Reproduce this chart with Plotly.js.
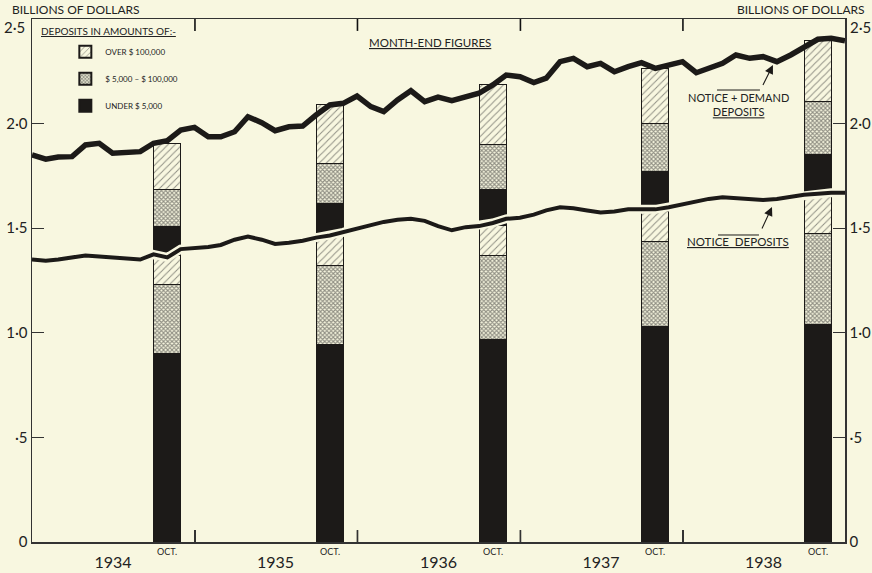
<!DOCTYPE html>
<html><head><meta charset="utf-8">
<script src="https://cdn.plot.ly/plotly-3.0.1.min.js"></script>
<style>html,body{margin:0;padding:0;background:#f8f7e0}</style>
</head><body><div id="chart" style="width:872px;height:573px"></div>
<script>
// Month-end dates (Dec 1933 .. Dec 1938)
const monthEnds = [
 '1933-12-31',
 '1934-01-31','1934-02-28','1934-03-31','1934-04-30','1934-05-31','1934-06-30','1934-07-31','1934-08-31','1934-09-30','1934-10-31','1934-11-30','1934-12-31',
 '1935-01-31','1935-02-28','1935-03-31','1935-04-30','1935-05-31','1935-06-30','1935-07-31','1935-08-31','1935-09-30','1935-10-31','1935-11-30','1935-12-31',
 '1936-01-31','1936-02-29','1936-03-31','1936-04-30','1936-05-31','1936-06-30','1936-07-31','1936-08-31','1936-09-30','1936-10-31','1936-11-30','1936-12-31',
 '1937-01-31','1937-02-28','1937-03-31','1937-04-30','1937-05-31','1937-06-30','1937-07-31','1937-08-31','1937-09-30','1937-10-31','1937-11-30','1937-12-31',
 '1938-01-31','1938-02-28','1938-03-31','1938-04-30','1938-05-31','1938-06-30','1938-07-31','1938-08-31','1938-09-30','1938-10-31','1938-11-30','1938-12-31'
];
// Billions of dollars, month-end figures
const noticePlusDemand = [
 1.85,
 1.83,1.84,1.842,1.898,1.906,1.858,1.863,1.866,1.906,1.918,1.969,1.982,
 1.937,1.937,1.961,2.033,2.004,1.966,1.985,1.988,2.041,2.089,2.097,2.132,
 2.081,2.057,2.113,2.157,2.105,2.127,2.110,2.125,2.145,2.185,2.232,2.224,
 2.196,2.217,2.296,2.312,2.272,2.288,2.248,2.272,2.291,2.264,2.280,2.296,
 2.243,2.264,2.288,2.328,2.312,2.320,2.296,2.328,2.368,2.403,2.408,2.396
];
const noticeDeposits = [
 1.35,
 1.345,1.35,1.36,1.37,1.365,1.36,1.355,1.35,1.375,1.36,1.40,1.405,
 1.41,1.42,1.445,1.46,1.445,1.425,1.43,1.44,1.455,1.465,1.48,1.50,
 1.515,1.53,1.54,1.545,1.535,1.51,1.49,1.505,1.51,1.525,1.545,1.55,
 1.565,1.585,1.60,1.595,1.585,1.575,1.58,1.59,1.59,1.59,1.60,1.615,
 1.63,1.64,1.648,1.645,1.638,1.635,1.64,1.65,1.66,1.665,1.67,1.67
];
// October bars
const barDates = ['1934-10-31','1935-10-31','1936-10-31','1937-10-31','1938-10-31'];
const barLabel = 'OCT.';
const sizeClasses = ['UNDER $ 5,000','$ 5,000 \u2013 $ 100,000','OVER $ 100,000'];
const noticeUnder5k   = [0.90, 0.945, 0.97, 1.03, 1.04];
const noticeMid       = [0.33, 0.375, 0.40, 0.405, 0.435];
const noticeOver100k  = [0.14, 0.14, 0.145, 0.145, 0.18];
const demandUnder5k   = [0.14, 0.16, 0.17, 0.19, 0.195];
const demandMid       = [0.175, 0.19, 0.215, 0.23, 0.255];
const demandOver100k  = [0.22, 0.28, 0.285, 0.265, 0.29];
// Axis labels
const yearLabels = ['1934','1935','1936','1937','1938'];
const yearMids = ['1934-07-01','1935-07-01','1936-07-01','1937-07-01','1938-07-01'];
const yearStarts = ['1935-01-01','1936-01-01','1937-01-01','1938-01-01'];
const yTickVals = [0, 0.5, 1, 1.5, 2, 2.5];
const yTickText = ['0', '\u00b75', '1\u00b70', '1\u00b75', '2\u00b70', '2\u00b75'];

const BG = '#f8f7e0';
const INK = '#1c1a18';
const FONT = 'Lato, "Liberation Sans", sans-serif';
const BARW = 61 * 86400000;
const XRANGE = ['1933-12-31', '1938-12-31'];
const TICKFONT = 15;
const YMAX = 2.5, TICKLEN = 0.057;

const styles = [
  {color: INK},
  {color: BG, pattern: {shape: 'x', size: 3, solidity: 0.6, fgcolor: '#2a2a2a', fillmode: 'overlay'}},
  {color: BG, pattern: {shape: '/', size: 5, solidity: 0.2, fgcolor: '#2a2a2a', fillmode: 'overlay'}}
];
const groups = ['under', 'mid', 'over'];
const ranks = [3, 2, 1];
const series = [
  [noticeUnder5k, 0, true], [noticeMid, 1, true], [noticeOver100k, 2, true],
  [demandUnder5k, 0, false], [demandMid, 1, false], [demandOver100k, 2, false]
];
const traces = series.map(([vals, k, show]) => ({
  type: 'bar', x: barDates, y: vals, width: BARW,
  name: sizeClasses[k], legendgroup: groups[k], legendrank: ranks[k], showlegend: show,
  marker: Object.assign({line: {color: INK, width: 1}}, styles[k]),
  hoverinfo: 'skip'
}));
const lineTrace = (y, color, width) => ({type: 'scatter', mode: 'lines', x: monthEnds, y: y,
  yaxis: 'y2', line: {color: color, width: width}, showlegend: false, hoverinfo: 'skip'});
traces.push(lineTrace(noticeDeposits, BG, 9));
traces.push(lineTrace(noticeDeposits, INK, 4));
traces.push(lineTrace(noticePlusDemand, INK, 5.5));

// year-boundary tick marks (inside, bottom and top), one short segment per year start
for (const d of yearStarts) {
  traces.push({type: 'scatter', mode: 'lines', x: [d, d], y: [0, TICKLEN], yaxis: 'y2',
    line: {color: '#111', width: 1.6}, showlegend: false, hoverinfo: 'skip'});
  traces.push({type: 'scatter', mode: 'lines', x: [d, d], y: [YMAX, YMAX - TICKLEN], yaxis: 'y2',
    line: {color: '#111', width: 1.6}, showlegend: false, hoverinfo: 'skip'});
}

const txt = (s, size) => ({text: s, showarrow: false, font: {family: FONT, size: size, color: '#222'}});
const annotations = [
  Object.assign(txt('BILLIONS OF DOLLARS', 12), {xref: 'paper', yref: 'paper', x: -0.027, y: 1.018, xanchor: 'left', yanchor: 'middle'}),
  Object.assign(txt('BILLIONS OF DOLLARS', 12), {xref: 'paper', yref: 'paper', x: 1.027, y: 1.018, xanchor: 'right', yanchor: 'middle'}),
  Object.assign(txt(yTickText[5], TICKFONT), {xref: 'paper', yref: 'paper', x: -0.006, y: 0.985, xanchor: 'right', yanchor: 'middle'}),
  Object.assign(txt(yTickText[5], TICKFONT), {xref: 'paper', yref: 'paper', x: 1.004, y: 0.985, xanchor: 'left', yanchor: 'middle'}),
  Object.assign(txt('<u>DEPOSITS IN AMOUNTS OF:-</u>', 10), {xref: 'paper', yref: 'paper', x: 0.009, y: 0.977, xanchor: 'left', yanchor: 'middle'}),
  Object.assign(txt('<u>MONTH-END FIGURES</u>', 11.5), {xref: 'paper', yref: 'paper', x: 0.49, y: 0.956, xanchor: 'center', yanchor: 'middle'}),
  Object.assign(txt('NOTICE + DEMAND<br><u>DEPOSITS</u>', 11), {xref: 'paper', yref: 'paper', x: 0.8696, y: 0.836, xanchor: 'center', yanchor: 'middle'}),
  Object.assign(txt('<u>NOTICE  DEPOSITS</u>', 11.5), {xref: 'paper', yref: 'paper', x: 0.8684, y: 0.575, xanchor: 'center', yanchor: 'middle'}),
  {xref: 'paper', yref: 'paper', x: 0.9114, y: 0.912, ax: -13, ay: 26, text: ' ', showarrow: true,
   arrowhead: 2, arrowsize: 1.6, arrowwidth: 1.1, arrowcolor: INK, standoff: 0},
  {xref: 'paper', yref: 'paper', x: 0.9102, y: 0.6405, ax: -13, ay: 28, text: ' ', showarrow: true,
   arrowhead: 2, arrowsize: 1.6, arrowwidth: 1.1, arrowcolor: INK, standoff: 0}
];
barDates.forEach(d => annotations.push(Object.assign(txt(barLabel, 9),
  {xref: 'x', yref: 'paper', x: d, y: 0, xanchor: 'center', yanchor: 'top', yshift: -2})));

const shapes = [
  {type: 'line', xref: 'paper', yref: 'paper', x0: 0.8426, x1: 0.8954, y0: 0.8642, y1: 0.8642, line: {color: INK, width: 1}},
  {type: 'line', xref: 'paper', yref: 'paper', x0: 0.8438, x1: 0.8942, y0: 0.587, y1: 0.587, line: {color: INK, width: 1}}
];

const yCommon = {range: [0, YMAX], tickmode: 'array', tickvals: yTickVals,
  ticktext: yTickText.slice(0, 5).concat(['']),
  ticks: 'inside', ticklen: 12, tickwidth: 1.3, tickcolor: '#333', showgrid: false, zeroline: false,
  showline: true, linecolor: '#333', linewidth: 1.5, tickfont: {family: FONT, size: TICKFONT, color: '#222'}, fixedrange: true};

const layout = {
  width: 872, height: 573,
  margin: {l: 32, r: 27, t: 19, b: 31},
  paper_bgcolor: BG, plot_bgcolor: BG,
  barmode: 'stack', bargap: 0,
  showlegend: true,
  legend: {x: 0.041, y: 0.965, xanchor: 'left', yanchor: 'top', bgcolor: 'rgba(0,0,0,0)',
    traceorder: 'grouped', tracegroupgap: 8, itemsizing: 'constant',
    font: {family: FONT, size: 8, color: '#222'}},
  xaxis: {type: 'date', range: XRANGE, tickmode: 'array', tickvals: yearMids, ticktext: yearLabels,
    ticks: '', showgrid: false, zeroline: false, showline: true, mirror: true, linecolor: '#333', linewidth: 1.5,
    ticklabelstandoff: 5, tickfont: {family: FONT, size: 16, color: '#222'},
    minor: {tickmode: 'array', tickvals: yearStarts, ticks: 'inside', ticklen: 12, tickwidth: 1.3, tickcolor: '#333', showgrid: false},
    fixedrange: true},
  yaxis: Object.assign({side: 'left'}, yCommon),
  yaxis2: Object.assign({side: 'right', overlaying: 'y'}, yCommon),
  annotations: annotations,
  shapes: shapes
};

Plotly.newPlot('chart', traces, layout, {staticPlot: true, displayModeBar: false});
</script>
</body></html>
